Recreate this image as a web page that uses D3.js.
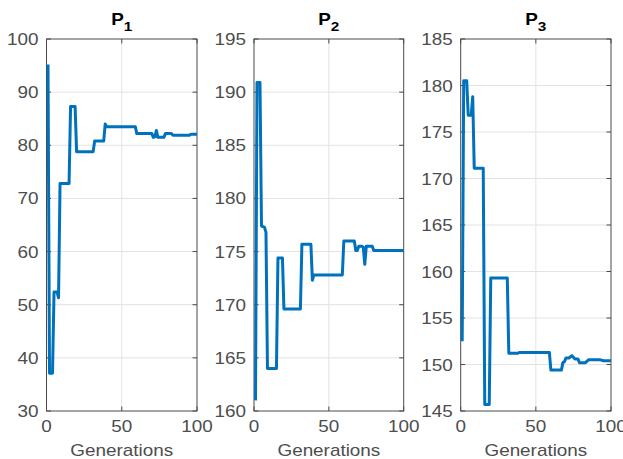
<!DOCTYPE html>
<html><head><meta charset="utf-8">
<script src="https://cdn.jsdelivr.net/npm/d3@7"></script>
<style>html,body{margin:0;padding:0;background:#fff;}svg{display:block;}</style>
</head><body>
<script>
// ---- data ----
const xTicks = [0, 50, 100];
const p1Gen = [1, 2, 4, 5, 7, 8, 9, 15, 16, 19, 20, 31, 32, 38, 39, 40, 59, 60, 70, 71, 72, 73, 74, 78, 79, 83, 84, 95, 96, 100];
const p1Val = [95.2, 37.1, 37.1, 52.4, 52.4, 51.3, 72.8, 72.8, 87.3, 87.3, 78.8, 78.8, 80.8, 80.8, 84.0, 83.5, 83.5, 82.2, 82.2, 81.5, 81.6, 82.8, 81.5, 81.5, 82.2, 82.2, 81.9, 81.9, 82.1, 82.1];
const p2Gen = [1, 2, 4, 5, 7, 8, 9, 15, 16, 19, 20, 31, 32, 38, 39, 40, 59, 60, 67, 68, 69, 70, 72, 73, 74, 75, 79, 80, 100];
const p2Val = [161.0, 190.9, 190.9, 177.4, 177.3, 176.8, 164.0, 164.0, 174.4, 174.4, 169.6, 169.6, 175.7, 175.7, 172.3, 172.8, 172.8, 176.0, 176.0, 175.1, 175.1, 175.5, 175.5, 175.4, 173.8, 175.5, 175.5, 175.1, 175.1];
const p3Gen = [1, 2, 4, 5, 7, 8, 9, 15, 16, 19, 20, 31, 32, 38, 39, 59, 60, 67, 68, 69, 70, 72, 74, 76, 78, 79, 83, 85, 93, 95, 100];
const p3Val = [152.5, 180.5, 180.5, 176.8, 176.8, 178.8, 171.1, 171.1, 145.7, 145.7, 159.3, 159.3, 151.2, 151.2, 151.3, 151.3, 149.4, 149.4, 150.2, 150.3, 150.7, 150.7, 150.95, 150.6, 150.6, 150.2, 150.2, 150.5, 150.5, 150.4, 150.4];
const yTicks1 = [30, 40, 50, 60, 70, 80, 90, 100];
const yTicks2 = [160, 165, 170, 175, 180, 185, 190, 195];
const yTicks3 = [145, 150, 155, 160, 165, 170, 175, 180, 185];
const titles = ["1", "2", "3"];
const xLabel = "Generations";

const panels = [
  {gen: p1Gen, val: p1Val, yTicks: yTicks1, dom: [30, 100], left: 46.5, right: 197, sub: titles[0]},
  {gen: p2Gen, val: p2Val, yTicks: yTicks2, dom: [160, 195], left: 254, right: 403.7, sub: titles[1]},
  {gen: p3Gen, val: p3Val, yTicks: yTicks3, dom: [145, 185], left: 460.7, right: 611, sub: titles[2]}
];

const W = 623, H = 459, plotTop = 39, plotBottom = 411;
const SX = 1.18;
const FONT = "'Liberation Sans', Arial, Helvetica, sans-serif";
const svg = d3.select("body").append("svg").attr("width", W).attr("height", H);

function label(g, x, y, str, anchor, color) {
  return g.append("text")
    .attr("transform", `translate(${x},${y}) scale(${SX},1)`)
    .attr("text-anchor", anchor)
    .attr("font-family", FONT)
    .attr("font-size", 16)
    .attr("fill", color || "#4d4d4d")
    .text(str);
}

panels.forEach(p => {
  const g = svg.append("g");
  const x = d3.scaleLinear().domain([0, 100]).range([p.left, p.right]);
  const y = d3.scaleLinear().domain(p.dom).range([plotBottom, plotTop]);

  // grid
  g.selectAll(".gx").data(xTicks.slice(1, -1)).enter().append("line")
    .attr("x1", d => x(d)).attr("x2", d => x(d)).attr("y1", plotTop).attr("y2", plotBottom)
    .attr("stroke", "#e3e3e3").attr("stroke-width", 1);
  g.selectAll(".gy").data(p.yTicks.slice(1, -1)).enter().append("line")
    .attr("y1", d => y(d)).attr("y2", d => y(d)).attr("x1", p.left).attr("x2", p.right)
    .attr("stroke", "#e3e3e3").attr("stroke-width", 1);

  // ticks (inside, all four sides)
  const tl = 4.5, ac = "#4a4a4a";
  xTicks.forEach(t => {
    g.append("line").attr("x1", x(t)).attr("x2", x(t)).attr("y1", plotBottom).attr("y2", plotBottom - tl).attr("stroke", ac);
    g.append("line").attr("x1", x(t)).attr("x2", x(t)).attr("y1", plotTop).attr("y2", plotTop + tl).attr("stroke", ac);
    label(g, x(t), plotBottom + 21, String(t), "middle");
  });
  p.yTicks.forEach(t => {
    g.append("line").attr("y1", y(t)).attr("y2", y(t)).attr("x1", p.left).attr("x2", p.left + tl).attr("stroke", ac);
    g.append("line").attr("y1", y(t)).attr("y2", y(t)).attr("x1", p.right).attr("x2", p.right - tl).attr("stroke", ac);
    label(g, p.left - 8, y(t) + 6, String(t), "end");
  });

  // box
  g.append("rect").attr("x", p.left).attr("y", plotTop).attr("width", p.right - p.left).attr("height", plotBottom - plotTop)
    .attr("fill", "none").attr("stroke", ac).attr("stroke-width", 1);

  // line
  const pts = p.gen.map((d, i) => [d, p.val[i]]);
  g.append("path").datum(pts)
    .attr("d", d3.line().x(d => x(d[0])).y(d => y(d[1])))
    .attr("fill", "none").attr("stroke", "#0072BD").attr("stroke-width", 3)
    .attr("stroke-linejoin", "round");

  // x label
  label(g, (p.left + p.right) / 2, 456, xLabel, "middle");

  // title
  const t = g.append("text")
    .attr("transform", `translate(${(p.left + p.right) / 2},25) scale(${SX},1)`)
    .attr("text-anchor", "middle").attr("font-family", FONT).attr("font-weight", "bold")
    .attr("font-size", 16).attr("fill", "#000");
  t.append("tspan").text("P");
  t.append("tspan").attr("font-size", 13).attr("dy", 6).text(p.sub);
});
</script>
</body></html>
